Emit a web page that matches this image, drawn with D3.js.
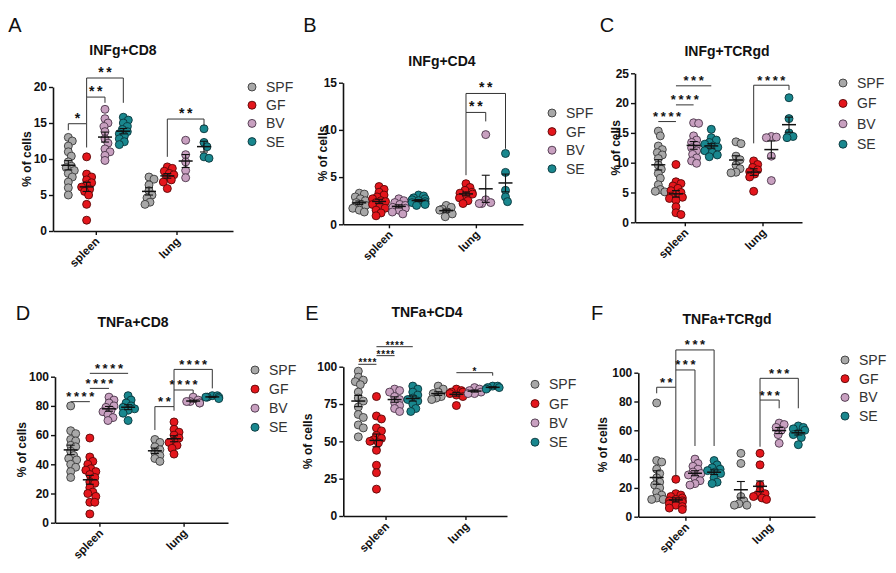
<!DOCTYPE html>
<html><head><meta charset="utf-8">
<script src="https://cdn.jsdelivr.net/npm/d3@7"></script>
<style>
body{margin:0;background:#fff;}
svg{display:block;font-family:"Liberation Sans",Arial,sans-serif;}
</style></head>
<body>
<script>
// ---------- data ----------
const GROUPS = ["SPF","GF","BV","SE"];
const CATEGORIES = ["spleen","lung"];
const PANEL_LETTERS = ["A","B","C","D","E","F"];
const PANEL_TITLES = ["INFg+CD8","INFg+CD4","INFg+TCRgd","TNFa+CD8","TNFa+CD4","TNFa+TCRgd"];
const Y_LABEL = "% of cells";

const TICKS_A = [0,5,10,15,20];
const TICKS_B = [0,5,10,15];
const TICKS_C = [0,5,10,15,20,25];
const TICKS_D = [0,20,40,60,80,100];
const TICKS_E = [0,25,50,75,100];
const TICKS_F = [0,20,40,60,80,100];

// each: [SPF, GF, BV, SE]
const A_spleen = [
 [13.0,12.5,11.8,11.0,10.4,9.6,9.0,8.8,8.4,8.0,7.5,6.8,6.0,5.0],
 [10.3,7.9,7.5,7.1,6.7,6.4,6.1,5.8,5.5,5.0,3.7,1.5],
 [16.9,15.6,15.0,14.5,13.8,12.8,12.2,11.4,11.0,10.5,9.8],
 [15.8,15.4,15.0,14.5,14.1,13.8,13.5,13.2,12.8,12.4,12.0]
];
const A_lung = [
 [7.5,7.2,6.4,5.6,5.0,4.6,4.0,3.7],
 [8.9,8.7,8.3,8.0,7.8,7.4,7.1,6.8,5.9],
 [12.6,10.6,9.6,8.4,7.4],
 [14.2,12.3,11.7,10.3,10.1]
];
const B_spleen = [
 [3.3,3.2,2.9,2.7,2.5,2.3,2.1,2.0,1.8,1.7,1.5,1.3],
 [4.0,3.7,3.4,3.1,2.9,2.7,2.5,2.4,2.3,2.1,1.9,1.7,1.5,1.2,0.9],
 [2.7,2.5,2.3,2.1,2.0,1.8,1.7,1.5,1.3,1.1],
 [3.1,3.0,2.8,2.7,2.6,2.5,2.4,2.3,2.2,2.1,2.0]
];
const B_lung = [
 [2.0,1.8,1.6,1.5,1.3,1.1,0.8],
 [4.3,3.9,3.6,3.4,3.3,3.2,3.0,2.8,2.5,2.2],
 [9.5,2.6,2.3,2.2,2.2],
 [7.5,5.5,3.6,2.9,2.4]
];
const C_spleen = [
 [15.3,14.5,12.8,12.2,11.7,11.3,10.7,9.6,8.9,8.2,7.4,6.3,5.5,5.2,5.1],
 [9.7,6.8,6.5,6.1,5.7,5.3,5.0,4.7,4.4,4.2,4.0,3.7,2.6,1.6,1.3],
 [16.7,16.6,14.5,13.8,13.4,12.9,12.5,12.0,11.4,10.8,10.3,9.9],
 [15.6,14.2,13.8,13.4,13.1,12.8,12.6,12.3,12.0,11.7,11.3,11.0]
];
const C_lung = [
 [13.5,13.2,11.1,10.5,9.6,9.0,8.4,8.3],
 [10.3,9.7,9.2,8.8,8.5,8.1,7.6,5.2],
 [14.4,14.3,14.2,11.1,7.0],
 [20.9,17.4,15.0,14.4,14.2]
];
const D_spleen = [
 [80,63,61,57,56,53,52,49,46,44,43,40,38,35,31],
 [58,45,42,40,37,36,35,33,31,28,27,24,21,20,18,14,14,6],
 [86,84,82,80,79,77,76,74,72,70],
 [87,84,82,80,79,78,77,75,70]
];
const D_lung = [
 [57,55,52,50,48,46,44,42],
 [69,64,62,60,58,56,55,53,51,47],
 [86,84,83,83,82,82],
 [87,87,86,86,86,85]
];
const E_spleen = [
 [97,93,91,90,88,83,79,77,73,68,66,61,59,53],
 [80,67,65,59,57,54,52,51,50,49,44,34,29,18],
 [85,84,83,80,78,76,74,72,70],
 [87,85,83,81,79,78,77,75,72,70]
];
const E_lung = [
 [87,85,83,82,80,79,78],
 [85,84,83,83,82,81,80,74],
 [86,85,84,83,82,82],
 [87,87,86,86,85]
];
const F_spleen = [
 [79,39,38,33,30,27,24,22,20,17,15,13,12,12],
 [26,16,15,14,13,12,11,11,10,9,8,7,6,5],
 [40,37,35,33,31,30,29,27,25,23,22],
 [39,36,34,33,32,31,30,27,24,23]
];
const F_lung = [
 [44,37,14,11,9,8,8],
 [44,36,22,18,16,15,14,13,12],
 [65,64,62,60,57,51],
 [63,62,61,60,58,57,55,50]
];

// significance: [category, groupFrom, groupTo, lineValue, legFromEnd, legToEnd, label]
const A_sig = [
 ["spleen",0,1,14.9,14.0,11.6,"*"],
 ["spleen",1,2,18.6,14.9,17.8,"**"],
 ["spleen",1,3,21.25,18.6,17.8,"**"],
 ["lung",1,3,15.55,10.3,14.6,"**"]
];
const B_sig = [
 ["lung",1,2,11.85,5.2,10.9,"**"],
 ["lung",1,3,13.86,11.85,8.0,"**"]
];
const C_sig = [
 ["spleen",0,1,16.9,16.9,16.9,"****"],
 ["spleen",1,2,19.7,19.7,19.7,"****"],
 ["spleen",1,3,22.9,22.9,22.9,"***"],
 ["lung",1,3,23.0,13.25,22.2,"****"]
];
const D_sig = [
 ["spleen",0,1,82.9,82.9,82.9,"****"],
 ["spleen",1,2,92,92,92,"****"],
 ["spleen",1,3,102.3,102.3,102.3,"****"],
 ["lung",0,1,79.5,63.5,76.7,"**"],
 ["lung",1,2,90.9,79.5,88.6,"****"],
 ["lung",1,3,105,90.9,92,"****"]
];
const E_sig = [
 ["spleen",0,1,101.6,101.6,101.6,"****"],
 ["spleen",1,2,107.4,107.4,107.4,"****"],
 ["spleen",1,3,113.4,113.4,113.4,"****"],
 ["lung",1,3,96,96,94,"*"]
];
const F_sig = [
 ["spleen",0,1,89.9,85.7,27.8,"**"],
 ["spleen",1,2,101.9,89.9,49.1,"***"],
 ["spleen",1,3,115.8,101.9,49.1,"***"],
 ["lung",1,2,81,48.6,75.3,"***"],
 ["lung",1,3,96.1,81,75.3,"***"]
];

const PANEL_DATA = [
 {spleen:A_spleen, lung:A_lung, ticks:TICKS_A, sig:A_sig},
 {spleen:B_spleen, lung:B_lung, ticks:TICKS_B, sig:B_sig},
 {spleen:C_spleen, lung:C_lung, ticks:TICKS_C, sig:C_sig},
 {spleen:D_spleen, lung:D_lung, ticks:TICKS_D, sig:D_sig},
 {spleen:E_spleen, lung:E_lung, ticks:TICKS_E, sig:E_sig},
 {spleen:F_spleen, lung:F_lung, ticks:TICKS_F, sig:F_sig}
];

// ---------- style / layout ----------
const FILL = ["#a8a8a8","#e4161c","#c8a0c0","#19878e"];
const STROKE = ["#3a3a3a","#5a0808","#4a3448","#0a363b"];
const LAYOUT = [
 {ax:53, xEnd:233, y0:231, y1:87, s0:68.3, s1:204, legX:252, legY:87, legStep:18.2, titleX:123, titleY:55, letterX:15, letterY:32, ylabX:27, star:14, starDy:-1},
 {ax:343, xEnd:523, y0:224.3, y1:82.7, s0:359.3, s1:505.5, legX:552, legY:113, legStep:18.6, titleX:442, titleY:66, letterX:310, letterY:32, ylabX:323, star:14, starDy:-1},
 {ax:635, xEnd:802, y0:222.3, y1:73.3, s0:658.3, s1:789, legX:843, legY:83, legStep:20.4, titleX:727, titleY:56, letterX:607, letterY:32, ylabX:616, star:13, starDy:-0.5},
 {ax:55, xEnd:228, y0:522.7, y1:376.7, s0:70.7, s1:212.3, legX:255, legY:370, legStep:19.1, titleX:133, titleY:327, letterX:23, letterY:320, ylabX:22, star:13, starDy:-0.5},
 {ax:343.3, xEnd:507, y0:516, y1:366.7, s0:358.3, s1:492.7, legX:535, legY:384.3, legStep:19.3, titleX:427, titleY:317, letterX:312, letterY:320, ylabX:308, star:10, starDy:2},
 {ax:638.3, xEnd:815, y0:516.7, y1:372.7, s0:656.7, s1:798.3, legX:845, legY:360, legStep:18.7, titleX:727, titleY:324, letterX:597, letterY:320, ylabX:603, star:13, starDy:-0.5}
];
const CAT_START = {spleen:0, lung:4.4};
const R = 4;

const svg = d3.select("body").append("svg").attr("width",896).attr("height",573);
svg.append("rect").attr("width",896).attr("height",573).attr("fill","#fff");

function swarm(vals, cx, y) {
  const pts = vals.map(v => ({v, y:y(v)})).sort((a,b) => a.y - b.y);
  const placed = [];
  const minD = R*1.25;
  pts.forEach(p => {
    let off = 0;
    for (let k = 0; k < 40; k++) {
      const cand = k === 0 ? 0 : (k % 2 ? 1 : -1) * Math.ceil(k/2) * 1;
      if (placed.every(q => Math.hypot(q.x - (cx + cand), q.y - p.y) >= minD)) { off = cand; break; }
      off = cand;
    }
    p.x = cx + Math.max(-6.5, Math.min(6.5, off));
    placed.push(p);
  });
  return placed;
}

PANEL_DATA.forEach((P, i) => {
  const L = LAYOUT[i];
  const g = svg.append("g");
  const ymax = P.ticks[P.ticks.length - 1];
  const y = d3.scaleLinear().domain([0, ymax]).range([L.y0, L.y1]);
  const slot = d3.scaleLinear().domain([0, 7.4]).range([L.s0, L.s1]);
  const gx = (cat, gi) => slot(CAT_START[cat] + gi);

  // y axis
  const ya = g.append("g").attr("transform", `translate(${L.ax},0)`)
    .call(d3.axisLeft(y).tickValues(P.ticks).tickSize(4).tickSizeOuter(0).tickPadding(2));
  ya.select(".domain").attr("stroke","#111").attr("stroke-width",1.6);
  ya.selectAll(".tick line").attr("stroke","#111").attr("stroke-width",1.4);
  ya.selectAll(".tick text").attr("font-size",12).attr("font-weight","bold").attr("fill","#111")
    .attr("font-family",'"Liberation Sans",Arial,sans-serif');

  // x axis
  const xa = d3.scaleLinear().domain([slot.invert(L.ax), slot.invert(L.xEnd)]).range([L.ax, L.xEnd]);
  const catCenters = CATEGORIES.map(c => CAT_START[c] + 1.5);
  const xAx = g.append("g").attr("transform", `translate(0,${L.y0})`)
    .call(d3.axisBottom(xa).tickValues(catCenters).tickSize(4).tickSizeOuter(0)
      .tickFormat((d, j) => CATEGORIES[j]));
  xAx.select(".domain").attr("stroke","#111").attr("stroke-width",1.6);
  xAx.selectAll(".tick line").attr("stroke","#111").attr("stroke-width",1.4);
  xAx.selectAll(".tick text").attr("font-size",11.5).attr("font-weight","bold").attr("fill","#111")
    .attr("font-family",'"Liberation Sans",Arial,sans-serif')
    .attr("y",0).attr("dy",0).attr("text-anchor","end")
    .attr("transform","translate(4,11) rotate(-45)");

  // y label
  g.append("text").attr("transform", `translate(${L.ylabX + 4},${(L.y0 + L.y1)/2}) rotate(-90)`)
    .attr("text-anchor","middle").attr("font-size",12).attr("font-weight","bold").attr("fill","#111")
    .text(Y_LABEL);

  // title & letter
  g.append("text").attr("x",L.titleX).attr("y",L.titleY).attr("text-anchor","middle")
    .attr("font-size",14).attr("font-weight","bold").attr("fill","#111").text(PANEL_TITLES[i]);
  g.append("text").attr("x",L.letterX).attr("y",L.letterY).attr("text-anchor","middle")
    .attr("font-size",20).attr("fill","#111").text(PANEL_LETTERS[i]);

  // points
  CATEGORIES.forEach(cat => {
    P[cat].forEach((vals, gi) => {
      const cx = gx(cat, gi);
      const pts = swarm(vals, cx, y);
      g.append("g").selectAll("circle").data(pts).join("circle")
        .attr("cx", d => d.x).attr("cy", d => d.y).attr("r", R)
        .attr("fill", FILL[gi]).attr("stroke", STROKE[gi]).attr("stroke-width", 0.9);
    });
  });
  // mean + SEM
  CATEGORIES.forEach(cat => {
    P[cat].forEach((vals, gi) => {
      const cx = gx(cat, gi);
      const m = d3.mean(vals);
      const sem = d3.deviation(vals) / Math.sqrt(vals.length);
      const mg = g.append("g").attr("stroke","#111").attr("fill","none");
      mg.append("line").attr("x1",cx-7).attr("x2",cx+7).attr("y1",y(m)).attr("y2",y(m)).attr("stroke-width",1.5);
      mg.append("line").attr("x1",cx).attr("x2",cx).attr("y1",y(m-sem)).attr("y2",y(m+sem)).attr("stroke-width",1.1);
      mg.append("line").attr("x1",cx-4).attr("x2",cx+4).attr("y1",y(m-sem)).attr("y2",y(m-sem)).attr("stroke-width",1.1);
      mg.append("line").attr("x1",cx-4).attr("x2",cx+4).attr("y1",y(m+sem)).attr("y2",y(m+sem)).attr("stroke-width",1.1);
    });
  });

  // significance brackets
  P.sig.forEach(s => {
    const [cat, g1, g2, top, e1, e2, lab] = s;
    const x1 = gx(cat, g1), x2 = gx(cat, g2);
    const path = d3.path();
    path.moveTo(x1, y(e1)); path.lineTo(x1, y(top)); path.lineTo(x2, y(top)); path.lineTo(x2, y(e2));
    g.append("path").attr("d", path.toString()).attr("fill","none").attr("stroke","#333").attr("stroke-width",1);
    const ls = L.star >= 13 ? 2.6 : 0.8;
    g.append("text").attr("x",(x1+x2)/2 + ls/2).attr("y", y(top) + L.starDy)
      .attr("text-anchor","middle").attr("font-size",L.star).attr("font-weight","bold")
      .attr("letter-spacing",ls).attr("fill","#111").text(lab);
  });

  // legend
  GROUPS.forEach((name, gi) => {
    const ly = L.legY + gi * L.legStep;
    g.append("circle").attr("cx",L.legX).attr("cy",ly).attr("r",4).attr("fill",FILL[gi])
      .attr("stroke",STROKE[gi]).attr("stroke-width",0.9);
    g.append("text").attr("x",L.legX + 14).attr("y",ly + 5).attr("font-size",14).attr("fill","#333").text(name);
  });
});
</script>
</body></html>
